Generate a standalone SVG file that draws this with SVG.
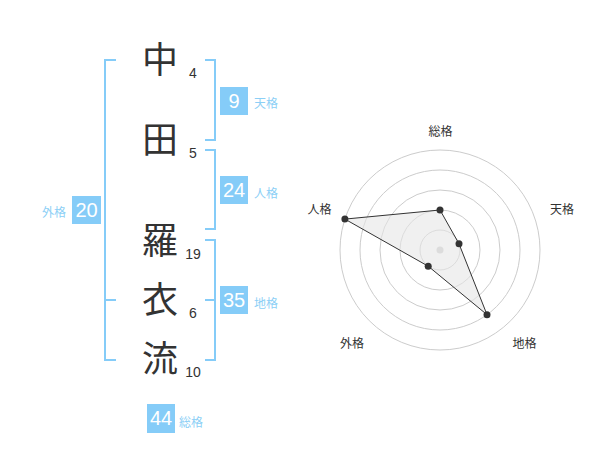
<svg xmlns="http://www.w3.org/2000/svg" width="600" height="470" viewBox="0 0 600 470">
<style>
.kanji{font-family:"Noto Sans CJK JP","Noto Sans CJK SC",sans-serif;font-size:36px;fill:#333;text-anchor:middle}
.num{font-family:"Liberation Sans",Arial,sans-serif;font-size:14px;fill:#333;text-anchor:middle}
.br{fill:none;stroke:#85ccf8;stroke-width:2}
.box{fill:#85ccf8}
.bn{font-family:"Liberation Sans",Arial,sans-serif;font-size:20px;fill:#fff;text-anchor:middle}
.lb{font-family:"Noto Sans CJK JP",sans-serif;font-size:12px;fill:#8ccff6}
.rl{font-family:"Noto Sans CJK JP",sans-serif;font-size:12px;fill:#333;text-anchor:middle}
.ring{fill:none;stroke:#ccc;stroke-width:1}
.dot{fill:#333}
</style>
<rect width="600" height="470" fill="#fff"/>
<g id="chars">
<text class="kanji" x="160" y="73">中</text>
<text class="kanji" x="160" y="153">田</text>
<text class="kanji" x="160" y="254">羅</text>
<text class="kanji" x="160" y="313">衣</text>
<text class="kanji" x="160" y="372">流</text>
<text class="num" x="193" y="78">4</text>
<text class="num" x="193" y="158">5</text>
<text class="num" x="193" y="259">19</text>
<text class="num" x="193" y="318">6</text>
<text class="num" x="193" y="377">10</text>
</g>
<g id="connectors">
<path class="br" d="M116,60 H105 V360 H116 M105,300 H116"/>
<path class="br" d="M205,60 H215 V140 H205"/>
<path class="br" d="M205,150 H215 V229 H205"/>
<path class="br" d="M205,240 H215 V360 H205 M215,300 H205"/>
</g>
<g id="tenkaku">
<rect class="box" x="220" y="87" width="28" height="28"/>
<text class="bn" x="234" y="108">9</text>
<text class="lb" x="254" y="108">天格</text>
</g>
<g id="jinkaku">
<rect class="box" x="220" y="176" width="28" height="28"/>
<text class="bn" x="234" y="197">24</text>
<text class="lb" x="254" y="198">人格</text>
</g>
<g id="chikaku">
<rect class="box" x="220" y="286" width="28" height="28"/>
<text class="bn" x="234" y="307">35</text>
<text class="lb" x="254" y="308">地格</text>
</g>
<g id="gaikaku">
<rect class="box" x="72" y="196" width="29" height="28"/>
<text class="bn" x="86.5" y="217">20</text>
<text class="lb" x="66" y="217" text-anchor="end">外格</text>
</g>
<g id="soukaku">
<rect class="box" x="147" y="404" width="28" height="29"/>
<text class="bn" x="161" y="425">44</text>
<text class="lb" x="179" y="427">総格</text>
</g>
<g id="radar">
<circle class="ring" cx="440" cy="250" r="20"/>
<circle class="ring" cx="440" cy="250" r="40"/>
<circle class="ring" cx="440" cy="250" r="60"/>
<circle class="ring" cx="440" cy="250" r="80"/>
<circle class="ring" cx="440" cy="250" r="100"/>
<circle cx="440" cy="250" r="3.5" fill="#ccc"/>
<polygon points="440,210 459,243.8 487,314.7 428.2,266.2 344.9,219.1" fill="#e6e6e6" fill-opacity="0.6" stroke="#333" stroke-width="1"/>
<circle class="dot" cx="440" cy="210" r="3.5"/>
<circle class="dot" cx="459" cy="243.8" r="3.5"/>
<circle class="dot" cx="487" cy="314.7" r="3.5"/>
<circle class="dot" cx="428.2" cy="266.2" r="3.5"/>
<circle class="dot" cx="344.9" cy="219.1" r="3.5"/>
<text class="rl" x="440.5" y="136">総格</text>
<text class="rl" x="562" y="214">天格</text>
<text class="rl" x="319.5" y="214">人格</text>
<text class="rl" x="352" y="348">外格</text>
<text class="rl" x="524.5" y="348">地格</text>
</g>
</svg>
